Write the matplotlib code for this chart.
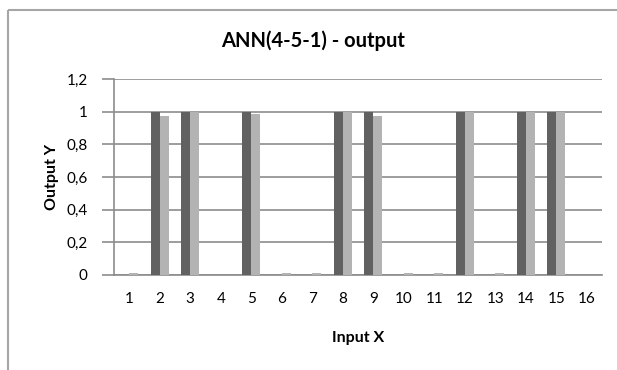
import numpy as np
import matplotlib.pyplot as plt
from matplotlib.lines import Line2D
from matplotlib.ticker import FuncFormatter

plt.rcParams['font.family'] = ['Lato', 'DejaVu Sans']

# inputs 1..16, desired output vs network output
inputs = [str(i) for i in range(1, 17)]
target = [0, 1, 1, 0, 1, 0, 0, 1, 1, 0, 0, 1, 0, 1, 1, 0]
output = [0.01, 0.975, 1.0, 0.0, 0.986, 0.01, 0.01, 1.0, 0.975, 0.01, 0.01, 1.0, 0.01, 1.0, 1.0, 0.0]

fig = plt.figure(figsize=(6.17, 3.70), dpi=100)
fig.patch.set_facecolor('white')

# chart frame (left and top edges only show)
fx, fy = 7.5 / 617, 1 - 9.5 / 370
fig.add_artist(Line2D([fx, fx], [-0.05, fy], transform=fig.transFigure,
                      color='#a6a6a6', lw=1.5, solid_capstyle='butt'))
fig.add_artist(Line2D([fx, 1.05], [fy, fy], transform=fig.transFigure,
                      color='#a6a6a6', lw=1.5, solid_capstyle='butt'))

ax = fig.add_axes([114 / 617, 1 - 275 / 370, (602 - 114) / 617, (275 - 79) / 370])

x = np.arange(len(inputs))
w = 0.3
ax.bar(x - w / 2, target, width=w, color='#616161', zorder=3)
ax.bar(x + w / 2, output, width=w, color='#b3b3b3', zorder=3)

ax.set_xlim(-0.5, len(inputs) - 0.5)
ax.set_ylim(0, 1.2)
ax.set_yticks(np.arange(0, 1.21, 0.2))
ax.yaxis.set_major_formatter(FuncFormatter(lambda v, p: ('%g' % round(v, 1)).replace('.', ',')))
ax.set_xticks(x)
ax.set_xticklabels(inputs)

ax.grid(axis='y', color='#8c8c8c', linewidth=1.2, zorder=0)
for s in ['top', 'right']:
    ax.spines[s].set_visible(False)
ax.spines['left'].set_color('#8c8c8c')
ax.spines['left'].set_linewidth(1.2)
ax.spines['bottom'].set_color('#8c8c8c')
ax.spines['bottom'].set_linewidth(1.2)

ax.tick_params(axis='y', length=9, width=1.2, color='#8c8c8c', labelsize=11, pad=10)
ax.tick_params(axis='x', length=0, labelsize=11, pad=12)

fig.text(313 / 617, 1 - 41 / 370, 'ANN(4-5-1) - output', fontsize=14.5,
         fontweight='bold', ha='center', va='center')
ax.set_xlabel('Input X', fontsize=11.5, fontweight='bold', labelpad=18)
ax.set_ylabel('Output Y', fontsize=11.5, fontweight='bold', labelpad=5)

fig.savefig('out.png', dpi=100)
